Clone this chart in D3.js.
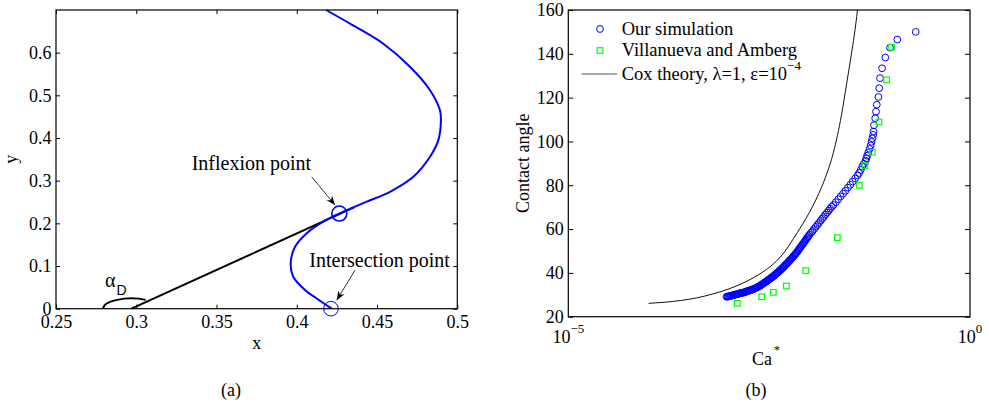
<!DOCTYPE html>
<html>
<head>
<meta charset="utf-8">
<script src="https://cdn.jsdelivr.net/npm/d3@7"></script>
<style>
body { margin: 0; background: #fff; }
svg text { font-family: "Liberation Serif", "Times New Roman", serif; fill: #000; }
</style>
</head>
<body>
<svg id="chart" width="989" height="404"></svg>
<script>
// ---------- (a) interface shape ----------
var shapeX = [0.4182, 0.4332, 0.4539, 0.4705, 0.4830, 0.4892, 0.4898, 0.4882, 0.4830, 0.4726,
  0.4581, 0.4436, 0.4352, 0.4265, 0.4165, 0.4062, 0.3989, 0.3962, 0.3978, 0.4051, 0.4124, 0.4218];
var shapeY = [0.700, 0.668, 0.621, 0.567, 0.512, 0.465, 0.442, 0.395, 0.356, 0.309,
  0.274, 0.251, 0.2375, 0.223, 0.204, 0.177, 0.145, 0.106, 0.075, 0.044, 0.024, 0.000];
var tangentX = [0.297, 0.4357];
var tangentY = [0, 0.2375];
var inflexionPt = [0.4265, 0.223];
var intersectPt = [0.4213, 0];
var xTicksA = [0.25, 0.3, 0.35, 0.4, 0.45, 0.5];
var yTicksA = [0, 0.1, 0.2, 0.3, 0.4, 0.5, 0.6];

// ---------- (b) contact angle vs Ca* (Ca given as log10) ----------
var simPoints = [
  [-3.03, 29.1], [-3.02, 29.2], [-3.01, 29.2], [-3.00, 29.3], [-2.99, 29.4], [-2.98, 29.5], [-2.97, 29.6], [-2.96, 29.7],
  [-2.95, 29.8], [-2.94, 29.9], [-2.93, 30.0], [-2.92, 30.1], [-2.91, 30.2], [-2.90, 30.3], [-2.89, 30.4], [-2.88, 30.5],
  [-2.87, 30.6], [-2.86, 30.7], [-2.85, 30.8], [-2.84, 30.9], [-2.83, 31.0], [-2.82, 31.0], [-2.81, 31.1], [-2.80, 31.2],
  [-2.79, 31.4], [-2.78, 31.5], [-2.77, 31.7], [-2.76, 31.8], [-2.75, 31.9], [-2.74, 32.0], [-2.73, 32.1], [-2.72, 32.3],
  [-2.71, 32.4], [-2.70, 32.5], [-2.69, 32.7], [-2.68, 32.9], [-2.67, 33.0], [-2.66, 33.2], [-2.65, 33.4], [-2.64, 33.6],
  [-2.63, 33.8], [-2.62, 34.0], [-2.61, 34.2], [-2.60, 34.5], [-2.59, 34.7], [-2.58, 35.0], [-2.57, 35.2], [-2.56, 35.5],
  [-2.55, 35.7], [-2.54, 36.0], [-2.53, 36.2], [-2.52, 36.5], [-2.51, 36.8], [-2.50, 37.0], [-2.49, 37.3], [-2.48, 37.6],
  [-2.47, 37.8], [-2.46, 38.1], [-2.45, 38.4], [-2.44, 38.7], [-2.43, 39.0], [-2.42, 39.4], [-2.41, 39.7], [-2.40, 40.0],
  [-2.39, 40.3], [-2.38, 40.6], [-2.37, 41.0], [-2.36, 41.3], [-2.35, 41.6], [-2.34, 42.0], [-2.33, 42.4], [-2.32, 42.7],
  [-2.31, 43.1], [-2.30, 43.5], [-2.29, 43.9], [-2.28, 44.2], [-2.27, 44.6], [-2.26, 45.0], [-2.25, 45.4], [-2.24, 45.8],
  [-2.23, 46.2], [-2.22, 46.6], [-2.21, 47.0], [-2.20, 47.5], [-2.19, 47.9], [-2.18, 48.3], [-2.17, 48.7], [-2.16, 49.2],
  [-2.15, 49.6], [-2.14, 50.2], [-2.13, 50.7], [-2.12, 51.2], [-2.11, 51.7], [-2.10, 52.2], [-2.09, 52.7], [-2.08, 53.2],
  [-2.07, 53.7], [-2.06, 54.2], [-2.05, 54.7], [-2.04, 55.3], [-2.03, 55.8], [-2.02, 56.3], [-2.01, 56.8], [-2.00, 57.4],
  [-1.98, 58.3], [-1.96, 59.1], [-1.94, 60.0], [-1.92, 61.0], [-1.90, 61.9], [-1.88, 62.8], [-1.86, 63.8], [-1.84, 64.7],
  [-1.82, 65.6], [-1.80, 66.6], [-1.78, 67.5], [-1.76, 68.4], [-1.74, 69.3], [-1.72, 70.2], [-1.70, 71.0], [-1.67, 72.3],
  [-1.64, 73.6], [-1.61, 74.9], [-1.58, 76.2], [-1.55, 77.5], [-1.52, 78.9], [-1.49, 80.2], [-1.46, 81.7], [-1.43, 83.1],
  [-1.40, 84.5], [-1.38, 85.6], [-1.36, 87.0], [-1.34, 88.5], [-1.32, 89.8], [-1.30, 91.2], [-1.29, 92.3], [-1.28, 93.5],
  [-1.266, 95.0], [-1.25, 96.6], [-1.236, 98.2], [-1.225, 99.8], [-1.216, 101.4], [-1.205, 103.0], [-1.20, 104.5], [-1.195, 107.4],
  [-1.18, 110.6], [-1.17, 113.6], [-1.16, 116.8], [-1.14, 120.3], [-1.13, 124.3], [-1.12, 128.9], [-1.095, 133.4], [-1.054, 138.3],
  [-0.995, 142.8], [-0.905, 146.5], [-0.676, 150.0]
];
var expPoints = [
  [-2.896, 26.1], [-2.593, 29.1], [-2.448, 31.1], [-2.286, 34.0], [-2.045, 41.0], [-1.652, 56.1],
  [-1.378, 80.0], [-1.307, 89.0], [-1.216, 95.1], [-1.133, 108.9], [-1.037, 128.1], [-0.975, 143.0]
];
var coxPoints = [
  [-4.0, 26.1], [-3.8, 26.6], [-3.6, 27.4], [-3.4, 28.6], [-3.2, 30.4], [-3.0, 32.7],
  [-2.8, 35.8], [-2.6, 39.9], [-2.45, 44.0], [-2.3, 50.0], [-2.2, 55.5], [-2.1, 61.3],
  [-2.0, 67.5], [-1.9, 74.8], [-1.8, 83.5], [-1.7, 95.0], [-1.6, 112.0], [-1.535, 126.5],
  [-1.48, 139.0], [-1.44, 148.5], [-1.40, 160.0]
];
var yTicksB = [20, 40, 60, 80, 100, 120, 140, 160];
var xTicksB = [-5, 0];

var svg = d3.select("#chart");
svg.append("rect").attr("width", 989).attr("height", 404).attr("fill", "#fff");

var defs = svg.append("defs");
defs.append("marker")
  .attr("id", "arrow")
  .attr("viewBox", "0 0 10 10")
  .attr("refX", 10)
  .attr("refY", 5)
  .attr("markerWidth", 9)
  .attr("markerHeight", 9)
  .attr("markerUnits", "userSpaceOnUse")
  .attr("orient", "auto")
  .append("path")
  .attr("d", "M0,1 L10,5 L0,9 L3,5 Z")
  .attr("fill", "#000");

function styleAxis(g) {
  g.select(".domain").remove();
  g.selectAll("line").attr("stroke", "#000");
  g.selectAll("text")
    .attr("font-family", "Liberation Serif, Times New Roman, serif")
    .attr("font-size", 18)
    .attr("fill", "#000");
}

// ================= panel (a) =================
var xA = d3.scaleLinear().domain([0.25, 0.5]).range([56, 457.3]);
var yA = d3.scaleLinear().domain([0, 0.7]).range([308.7, 10]);
var pa = svg.append("g");

pa.append("g")
  .attr("transform", "translate(0," + yA(0) + ")")
  .call(d3.axisBottom(xA).tickValues(xTicksA).tickSize(-4).tickPadding(7).tickFormat(d => String(d)))
  .call(styleAxis);
pa.append("g")
  .attr("transform", "translate(0," + yA(0.7) + ")")
  .call(d3.axisTop(xA).tickValues(xTicksA).tickSize(-4).tickFormat(""))
  .call(styleAxis);
pa.append("g")
  .attr("transform", "translate(" + xA(0.25) + ",0)")
  .call(d3.axisLeft(yA).tickValues(yTicksA).tickSize(-4).tickPadding(4.5).tickFormat(d => String(d)))
  .call(styleAxis);
pa.append("g")
  .attr("transform", "translate(" + xA(0.5) + ",0)")
  .call(d3.axisRight(yA).tickValues(yTicksA).tickSize(-4).tickFormat(""))
  .call(styleAxis);

// tangent line
pa.append("line")
  .attr("x1", xA(tangentX[0])).attr("y1", yA(tangentY[0]))
  .attr("x2", xA(tangentX[1])).attr("y2", yA(tangentY[1]))
  .attr("stroke", "#000")
  .attr("stroke-width", 2);

// angle arc alpha_D
var arcRx = xA(tangentX[0]) - xA(0.2793);
var arcRy = yA(0) - yA(0.0242);
var arcStart = [xA(tangentX[0]) - arcRx, yA(0)];
var arcEnd = [xA(tangentX[0]) + arcRx * 0.5, yA(0) - arcRy * 0.866];
pa.append("path")
  .attr("d", "M" + arcStart + " A" + arcRx + "," + arcRy + " 0 0 1 " + arcEnd)
  .attr("fill", "none")
  .attr("stroke", "#000")
  .attr("stroke-width", 1.8);

// blue interface
var shapeLine = d3.line()
  .x(d => xA(d[0]))
  .y(d => yA(d[1]))
  .curve(d3.curveCatmullRom);
pa.append("path")
  .datum(shapeX.map((v, i) => [v, shapeY[i]]))
  .attr("d", shapeLine)
  .attr("fill", "none")
  .attr("stroke", "#0000ff")
  .attr("stroke-width", 2);

pa.append("circle")
  .attr("cx", xA(inflexionPt[0])).attr("cy", yA(inflexionPt[1]))
  .attr("r", 7.5)
  .attr("fill", "none").attr("stroke", "#0000ff").attr("stroke-width", 1.6);
pa.append("circle")
  .attr("cx", xA(intersectPt[0])).attr("cy", yA(intersectPt[1]))
  .attr("r", 7.3)
  .attr("fill", "none").attr("stroke", "#0000ff").attr("stroke-width", 1);

// frame
pa.append("rect")
  .attr("x", xA(0.25)).attr("y", yA(0.7))
  .attr("width", xA(0.5) - xA(0.25)).attr("height", yA(0) - yA(0.7))
  .attr("fill", "none").attr("stroke", "#000").attr("stroke-width", 1.2);

// annotations
pa.append("text").attr("x", xA(0.3345)).attr("y", yA(0.325)).attr("font-size", 20).text("Inflexion point");
pa.append("line")
  .attr("x1", xA(0.4093)).attr("y1", yA(0.309))
  .attr("x2", xA(0.4238)).attr("y2", yA(0.243))
  .attr("stroke", "#000").attr("stroke-width", 0.8)
  .attr("marker-end", "url(#arrow)");
pa.append("text").attr("x", xA(0.4078)).attr("y", yA(0.098)).attr("font-size", 20).text("Intersection point");
pa.append("line")
  .attr("x1", xA(0.4363)).attr("y1", yA(0.0904))
  .attr("x2", xA(0.4249)).attr("y2", yA(0.020))
  .attr("stroke", "#000").attr("stroke-width", 0.8)
  .attr("marker-end", "url(#arrow)");

var alpha = pa.append("text").attr("x", xA(0.2805)).attr("y", yA(0.052));
alpha.append("tspan").attr("font-size", 20).text("α");
alpha.append("tspan")
  .attr("font-family", "Liberation Sans, Arial, sans-serif")
  .attr("font-size", 14)
  .attr("dy", 8)
  .attr("dx", 1)
  .text("D");

pa.append("text")
  .attr("x", xA(0.375)).attr("y", 349)
  .attr("text-anchor", "middle").attr("font-size", 18).text("x");
pa.append("text")
  .attr("transform", "translate(16.5," + yA(0.35) + ") rotate(-90)")
  .attr("text-anchor", "middle").attr("font-size", 18).text("y");
pa.append("text")
  .attr("x", 231).attr("y", 396)
  .attr("text-anchor", "middle").attr("font-size", 18).text("(a)");

// ================= panel (b) =================
var xB = d3.scaleLog().domain([1e-5, 1]).range([568.3, 970]);
var yB = d3.scaleLinear().domain([20, 160]).range([316.7, 10]);
var pb = svg.append("g");

defs.append("clipPath").attr("id", "clipB")
  .append("rect")
  .attr("x", xB(1e-5)).attr("y", yB(160))
  .attr("width", xB(1) - xB(1e-5)).attr("height", yB(20) - yB(160));

pb.append("g")
  .attr("transform", "translate(" + xB(1e-5) + ",0)")
  .call(d3.axisLeft(yB).tickValues(yTicksB).tickSize(-5).tickPadding(4.5).tickFormat(d => String(d)))
  .call(styleAxis);
pb.append("g")
  .attr("transform", "translate(" + xB(1) + ",0)")
  .call(d3.axisRight(yB).tickValues(yTicksB).tickSize(-5).tickFormat(""))
  .call(styleAxis);

// x tick labels 10^n
xTicksB.forEach(function(e) {
  var t = pb.append("text")
    .attr("x", xB(Math.pow(10, e)))
    .attr("y", 343)
    .attr("text-anchor", "middle")
    .attr("font-size", 18);
  t.append("tspan").text("10");
  t.append("tspan").attr("font-size", 13).attr("dy", -10).text(e < 0 ? "\u2212" + (-e) : String(e));
});

var plotB = pb.append("g").attr("clip-path", "url(#clipB)");

var coxLine = d3.line()
  .x(d => xB(Math.pow(10, d[0])))
  .y(d => yB(d[1]))
  .curve(d3.curveMonotoneX);
plotB.append("path")
  .datum(coxPoints)
  .attr("d", coxLine)
  .attr("fill", "none")
  .attr("stroke", "#111")
  .attr("stroke-width", 1);

plotB.selectAll(".sim")
  .data(simPoints)
  .enter()
  .append("circle")
  .attr("class", "sim")
  .attr("cx", d => xB(Math.pow(10, d[0])))
  .attr("cy", d => yB(d[1]))
  .attr("r", 3.4)
  .attr("fill", "none")
  .attr("stroke", "#0000ff")
  .attr("stroke-width", 1);

var sq = 5.6;
plotB.selectAll(".exp")
  .data(expPoints)
  .enter()
  .append("rect")
  .attr("class", "exp")
  .attr("x", d => xB(Math.pow(10, d[0])) - sq / 2)
  .attr("y", d => yB(d[1]) - sq / 2)
  .attr("width", sq)
  .attr("height", sq)
  .attr("fill", "none")
  .attr("stroke", "#00ff00")
  .attr("stroke-width", 1.2);

pb.append("rect")
  .attr("x", xB(1e-5)).attr("y", yB(160))
  .attr("width", xB(1) - xB(1e-5)).attr("height", yB(20) - yB(160))
  .attr("fill", "none").attr("stroke", "#000").attr("stroke-width", 1.2);

// legend
var lg = pb.append("g");
lg.append("circle").attr("cx", 600).attr("cy", 29).attr("r", 3.4)
  .attr("fill", "none").attr("stroke", "#0000ff");
lg.append("text").attr("x", 621.7).attr("y", 34.5).attr("font-size", 18.5).text("Our simulation");
lg.append("rect").attr("x", 600 - sq / 2).attr("y", 50.5 - sq / 2).attr("width", sq).attr("height", sq)
  .attr("fill", "none").attr("stroke", "#00ff00").attr("stroke-width", 1.2);
lg.append("text").attr("x", 621.7).attr("y", 56).attr("font-size", 18.5).text("Villanueva and Amberg");
lg.append("line").attr("x1", 581.7).attr("x2", 617.3).attr("y1", 74).attr("y2", 74)
  .attr("stroke", "#555").attr("stroke-width", 1.2);
var coxLabel = lg.append("text").attr("x", 621.7).attr("y", 79.5).attr("font-size", 18.5);
coxLabel.append("tspan").text("Cox theory, λ=1, ε=10");
coxLabel.append("tspan").attr("font-size", 13).attr("dy", -10).text("\u22124");

// axis titles
pb.append("text")
  .attr("transform", "translate(529," + yB(90) + ") rotate(-90)")
  .attr("text-anchor", "middle").attr("font-size", 18).text("Contact angle");
var caLabel = pb.append("text").attr("x", 766).attr("y", 365)
  .attr("text-anchor", "middle").attr("font-size", 18);
caLabel.append("tspan").text("Ca");
caLabel.append("tspan").attr("font-size", 12).attr("dy", -11).attr("dx", 2).text("*");
pb.append("text")
  .attr("x", 756).attr("y", 396)
  .attr("text-anchor", "middle").attr("font-size", 18).text("(b)");
</script>
</body>
</html>
